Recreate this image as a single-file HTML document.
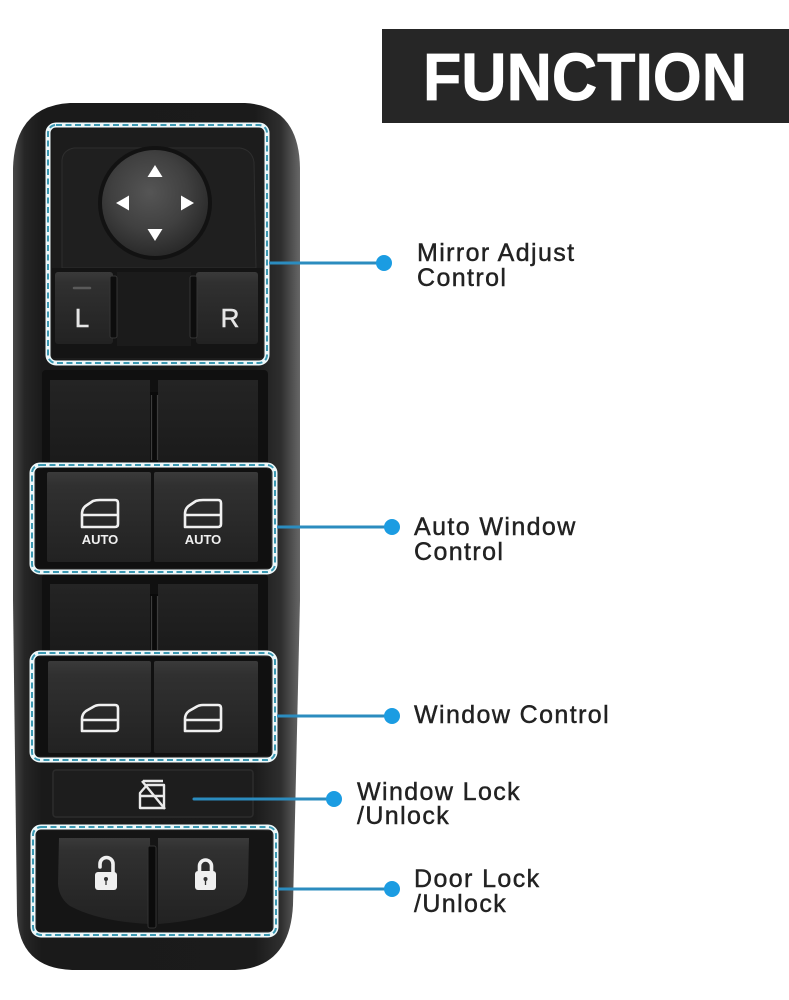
<!DOCTYPE html>
<html>
<head>
<meta charset="utf-8">
<style>
  html,body{margin:0;padding:0;background:#fff;}
  body{width:789px;height:1000px;overflow:hidden;position:relative;}
  svg{position:absolute;left:0;top:0;}
  .lbl{font-family:"Liberation Sans",sans-serif;font-size:25px;fill:#222;letter-spacing:1.4px;stroke:#222;stroke-width:0.45px;}
</style>
</head>
<body>
<svg width="789" height="1000" viewBox="0 0 789 1000" xmlns="http://www.w3.org/2000/svg">
  <defs>
    <linearGradient id="bodyG" x1="13" y1="0" x2="301" y2="0" gradientUnits="userSpaceOnUse">
      <stop offset="0" stop-color="#484848"/>
      <stop offset="0.04" stop-color="#262626"/>
      <stop offset="0.1" stop-color="#1a1a1a"/>
      <stop offset="0.84" stop-color="#1b1b1b"/>
      <stop offset="0.93" stop-color="#2e2e2e"/>
      <stop offset="1" stop-color="#6a6a6a"/>
    </linearGradient>
    <radialGradient id="joyG" cx="0.45" cy="0.4" r="0.6">
      <stop offset="0" stop-color="#555"/>
      <stop offset="0.6" stop-color="#404040"/>
      <stop offset="1" stop-color="#2a2a2a"/>
    </radialGradient>
    <linearGradient id="btnG" x1="0" y1="0" x2="0" y2="1">
      <stop offset="0" stop-color="#3a3a3a"/>
      <stop offset="0.15" stop-color="#303030"/>
      <stop offset="1" stop-color="#222"/>
    </linearGradient>
    <linearGradient id="panG" x1="0" y1="0" x2="0" y2="1">
      <stop offset="0" stop-color="#242424"/>
      <stop offset="1" stop-color="#1a1a1a"/>
    </linearGradient>
  </defs>

  <!-- FUNCTION header -->
  <rect x="382" y="29" width="407" height="94" fill="#262626"/>
  <text x="423" y="100" font-family="Liberation Sans, sans-serif" font-weight="bold" font-size="67" fill="#fff" stroke="#fff" stroke-width="0.8" textLength="324" lengthAdjust="spacingAndGlyphs">FUNCTION</text>

  <!-- Device body -->
  <path d="M70,103 L245,103 Q299,106 300,168 L300,600 L293,905 Q290,968 235,970 L72,970 Q19,968 17,915 L13,600 L13,168 Q15,106 70,103 Z" fill="url(#bodyG)"/>

  <!-- Mirror section -->
  <rect x="52" y="129" width="211" height="230" rx="6" fill="#1c1c1c"/>
  <path d="M62,268 L62,160 Q63,150 74,148 L240,148 Q252,150 254,162 L256,268 Z" fill="#1f1f1f" stroke="#2e2e2e" stroke-width="1"/>
  <circle cx="155" cy="203" r="57" fill="#121212"/>
  <circle cx="155" cy="203" r="53" fill="url(#joyG)"/>
  <polygon points="155,165 147.5,177 162.5,177" fill="#fff"/>
  <polygon points="155,241 147.5,229 162.5,229" fill="#fff"/>
  <polygon points="116,203 129,195.5 129,210.5" fill="#fff"/>
  <polygon points="194,203 181,195.5 181,210.5" fill="#fff"/>

  <rect x="52" y="268" width="211" height="90" fill="#141414"/>
  <rect x="55" y="272" width="58" height="72" rx="3" fill="url(#btnG)"/>
  <rect x="117" y="272" width="74" height="74" fill="#1b1b1b"/>
  <rect x="196" y="272" width="62" height="72" rx="3" fill="url(#btnG)"/>
  <rect x="110" y="276" width="7" height="62" rx="2" fill="#0d0d0d" stroke="#353535" stroke-width="1"/>
  <rect x="190" y="276" width="7" height="62" rx="2" fill="#0d0d0d" stroke="#353535" stroke-width="1"/>
  <line x1="74" y1="288" x2="90" y2="288" stroke="#5a5a5a" stroke-width="2.5" stroke-linecap="round"/>
  <text x="82" y="327" font-family="Liberation Sans, sans-serif" font-size="26" fill="#e6e6e6" stroke="#e6e6e6" stroke-width="0.5" text-anchor="middle">L</text>
  <text x="230" y="327" font-family="Liberation Sans, sans-serif" font-size="26" fill="#e6e6e6" stroke="#e6e6e6" stroke-width="0.5" text-anchor="middle">R</text>

  <!-- Upper pull area 1 -->
  <rect x="42" y="370" width="226" height="100" rx="4" fill="#101010"/>
  <rect x="50" y="380" width="100" height="88" fill="url(#panG)"/>
  <rect x="158" y="380" width="100" height="88" fill="url(#panG)"/>
  <rect x="150" y="392" width="8" height="70" fill="#0a0a0a"/>
  <line x1="151.5" y1="395" x2="151.5" y2="460" stroke="#3c3c3c" stroke-width="1.2"/>
  <line x1="157.5" y1="395" x2="157.5" y2="460" stroke="#3c3c3c" stroke-width="1.2"/>

  <!-- Auto window buttons -->
  <rect x="36" y="469" width="235" height="99" fill="#101010"/>
  <rect x="47" y="472" width="104" height="90" rx="2" fill="url(#btnG)"/>
  <rect x="154" y="472" width="104" height="90" rx="2" fill="url(#btnG)"/>
  <g fill="none" stroke="#f0f0f0" stroke-width="2.6" stroke-linejoin="round">
    <path d="M82,527 L82,514 Q82,508 87,505 L93,501 Q96,500 100,500 L115,500 Q118,500 118,503 L118,524 Q118,527 115,527 Z"/>
    <line x1="82" y1="515" x2="118" y2="515"/>
    <path d="M185,527 L185,514 Q185,508 190,505 L196,501 Q199,500 203,500 L218,500 Q221,500 221,503 L221,524 Q221,527 218,527 Z"/>
    <line x1="185" y1="515" x2="221" y2="515"/>
  </g>
  <text x="100" y="544" font-family="Liberation Sans, sans-serif" font-weight="bold" font-size="13" fill="#f0f0f0" text-anchor="middle">AUTO</text>
  <text x="203" y="544" font-family="Liberation Sans, sans-serif" font-weight="bold" font-size="13" fill="#f0f0f0" text-anchor="middle">AUTO</text>

  <!-- Upper pull area 2 -->
  <rect x="42" y="574" width="226" height="82" rx="4" fill="#101010"/>
  <rect x="50" y="584" width="100" height="72" fill="url(#panG)"/>
  <rect x="158" y="584" width="100" height="72" fill="url(#panG)"/>
  <rect x="150" y="594" width="8" height="58" fill="#0a0a0a"/>
  <line x1="151.5" y1="596" x2="151.5" y2="650" stroke="#3c3c3c" stroke-width="1.2"/>
  <line x1="157.5" y1="596" x2="157.5" y2="650" stroke="#3c3c3c" stroke-width="1.2"/>

  <!-- Window buttons -->
  <rect x="36" y="657" width="235" height="99" fill="#101010"/>
  <rect x="48" y="661" width="103" height="92" rx="2" fill="url(#btnG)"/>
  <rect x="154" y="661" width="104" height="92" rx="2" fill="url(#btnG)"/>
  <g fill="none" stroke="#f0f0f0" stroke-width="2.6" stroke-linejoin="round">
    <path d="M82,731 L82,719 Q82,714 86,711 L93,707 Q96,705 100,705 L115,705 Q118,705 118,708 L118,728 Q118,731 115,731 Z"/>
    <line x1="82" y1="720" x2="118" y2="720"/>
    <path d="M185,731 L185,719 Q185,714 189,711 L196,707 Q199,705 203,705 L218,705 Q221,705 221,708 L221,728 Q221,731 218,731 Z"/>
    <line x1="185" y1="720" x2="221" y2="720"/>
  </g>

  <!-- Window lock bar -->
  <rect x="53" y="770" width="200" height="47" rx="3" fill="#1d1d1d" stroke="#2c2c2c" stroke-width="1.5"/>
  <g fill="none" stroke="#eaeaea" stroke-width="2.4" stroke-linejoin="round">
    <path d="M140,808 L140,793 L147,785 L164,785 L164,808 Z"/>
    <line x1="140" y1="796" x2="164" y2="796"/>
    <line x1="142" y1="781" x2="165" y2="809"/>
    <line x1="143" y1="781" x2="163" y2="781"/>
  </g>

  <!-- Door lock buttons -->
  <rect x="37" y="831" width="235" height="100" fill="#151515"/>
  <path d="M59,838 L150,838 L151,924 Q100,922 70,906 Q59,898 58,884 Z" fill="url(#btnG)"/>
  <path d="M158,838 L249,838 L248,884 Q247,898 238,904 Q210,920 158,924 Z" fill="url(#btnG)"/>
  <rect x="148" y="846" width="8" height="82" rx="2" fill="#0b0b0b" stroke="#333" stroke-width="1"/>
  <!-- unlock icon -->
  <path d="M100,867 L100,864 A6.5,6.5 0 0 1 113,864 L113,873" fill="none" stroke="#f0f0f0" stroke-width="3.6" stroke-linecap="round"/>
  <rect x="95" y="872" width="22" height="18" rx="3" fill="#f0f0f0"/>
  <circle cx="106" cy="879" r="2" fill="#333"/>
  <line x1="106" y1="879" x2="106" y2="885" stroke="#333" stroke-width="1.3"/>
  <!-- lock icon -->
  <path d="M199.5,873 L199.5,866 A6,6 0 0 1 211.5,866 L211.5,873" fill="none" stroke="#f0f0f0" stroke-width="3.6"/>
  <rect x="195" y="871" width="21" height="19" rx="3" fill="#f0f0f0"/>
  <circle cx="205.5" cy="879" r="2" fill="#333"/>
  <line x1="205.5" y1="879" x2="205.5" y2="885" stroke="#333" stroke-width="1.3"/>

  <!-- Dashed highlight boxes -->
  <g fill="none">
    <rect x="48" y="125" width="219" height="238" rx="8" stroke="#eef8fa" stroke-width="5"/>
    <rect x="48" y="125" width="219" height="238" rx="8" stroke="#3a98b2" stroke-width="2" stroke-dasharray="6 3.5"/>
    <rect x="32" y="465" width="243" height="107" rx="8" stroke="#eef8fa" stroke-width="5"/>
    <rect x="32" y="465" width="243" height="107" rx="8" stroke="#3a98b2" stroke-width="2" stroke-dasharray="6 3.5"/>
    <rect x="32" y="653" width="243" height="107" rx="8" stroke="#eef8fa" stroke-width="5"/>
    <rect x="32" y="653" width="243" height="107" rx="8" stroke="#3a98b2" stroke-width="2" stroke-dasharray="6 3.5"/>
    <rect x="33" y="827" width="243" height="108" rx="8" stroke="#eef8fa" stroke-width="5"/>
    <rect x="33" y="827" width="243" height="108" rx="8" stroke="#3a98b2" stroke-width="2" stroke-dasharray="6 3.5"/>
  </g>

  <!-- Connectors -->
  <g stroke="#2b8cbf" stroke-width="3">
    <line x1="269" y1="263" x2="384" y2="263"/>
    <line x1="277" y1="527" x2="392" y2="527"/>
    <line x1="277" y1="716" x2="392" y2="716"/>
    <line x1="194" y1="799" x2="334" y2="799" stroke-linecap="round"/>
    <line x1="278" y1="889" x2="392" y2="889"/>
  </g>
  <g fill="#1b9ce2">
    <circle cx="384" cy="263" r="8"/>
    <circle cx="392" cy="527" r="8"/>
    <circle cx="392" cy="716" r="8"/>
    <circle cx="334" cy="799" r="8"/>
    <circle cx="392" cy="889" r="8"/>
  </g>

  <!-- Labels -->
  <text class="lbl" x="417" y="261">Mirror Adjust</text>
  <text class="lbl" x="417" y="286">Control</text>
  <text class="lbl" x="414" y="535">Auto Window</text>
  <text class="lbl" x="414" y="560">Control</text>
  <text class="lbl" x="414" y="723">Window Control</text>
  <text class="lbl" x="357" y="800">Window Lock</text>
  <text class="lbl" x="357" y="824">/Unlock</text>
  <text class="lbl" x="414" y="887">Door Lock</text>
  <text class="lbl" x="414" y="912">/Unlock</text>
</svg>
</body>
</html>
